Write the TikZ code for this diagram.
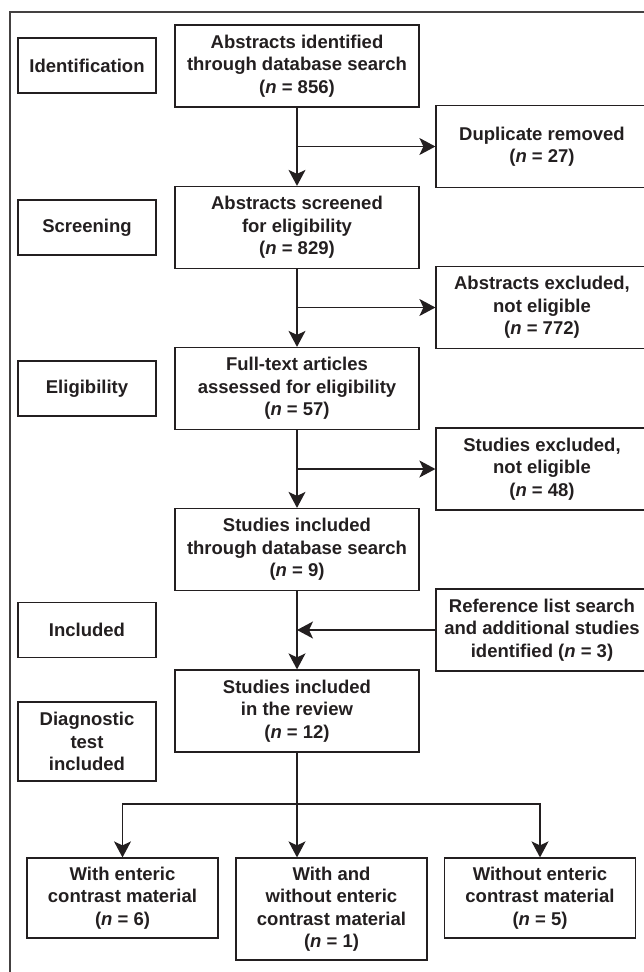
\documentclass[tikz,border=0pt]{standalone}
\usepackage{fontspec}
\setmainfont{Liberation Sans}
\usetikzlibrary{arrows.meta,calc}
\definecolor{ink}{HTML}{231F20}
\begin{document}
\begin{tikzpicture}[x=1pt,y=-1pt,
  txt/.style={font=\fontsize{18.5}{22.5}\selectfont\bfseries, text=ink, align=center},
  box/.style={txt, draw=ink, line width=1.2pt, inner sep=0pt, minimum width=244pt, minimum height=82pt},
  lab/.style={txt, draw=ink, line width=1.2pt, inner sep=0pt, minimum width=138pt, minimum height=55pt},
  side/.style={txt, draw=ink, line width=1.2pt, inner sep=0pt, minimum width=212pt, minimum height=82pt},
  bot/.style={txt, draw=ink, line width=1.2pt, inner sep=0pt, minimum width=191pt, minimum height=80pt},
  conn/.style={draw=ink, line width=1.4pt},
  arr/.style={conn, -{Stealth[length=16pt,width=17pt,inset=4pt]}}
]
\useasboundingbox (0,0) rectangle (644,972);
\clip (0,0) rectangle (644,972);
\draw[draw=ink!85, line width=1.2pt] (10,990) -- (10,12) -- (660,12);

% main column
\node[box] (b1) at (297,66) {Abstracts identified\\through database search\\(\textit{n} = 856)};
\node[box] (b2) at (297,227.5) {Abstracts screened\\for eligibility\\(\textit{n} = 829)};
\node[box] (b3) at (297,388.5) {Full-text articles\\assessed for eligibility\\(\textit{n} = 57)};
\node[box] (b4) at (297,549.5) {Studies included\\through database search\\(\textit{n} = 9)};
\node[box] (b5) at (297,711) {Studies included\\in the review\\(\textit{n} = 12)};

% stage labels
\node[lab] (l1) at (87,65.5) {Identification};
\node[lab] (l2) at (87,227.5) {Screening};
\node[lab] (l3) at (87,388.5) {Eligibility};
\node[lab] (l4) at (87,630) {Included};
\node[lab, minimum height=79pt] (l5) at (87,741.5) {Diagnostic\\test\\included};

% side boxes
\node[side] (s1) at (542,146.5) {Duplicate removed\\(\textit{n} = 27)};
\node[side] (s2) at (542,307.5) {Abstracts excluded,\\not eligible\\(\textit{n} = 772)};
\node[side] (s3) at (542,469) {Studies excluded,\\not eligible\\(\textit{n} = 48)};
\node[side] (s4) at (542,630) {Reference list search\\and additional studies\\identified (\textit{n} = 3)};

% bottom boxes
\node[bot] (bA) at (122.5,898) {With enteric\\contrast material\\(\textit{n} = 6)};
\node[bot, minimum height=102pt] (bB) at (331.5,909) {With and\\without enteric\\contrast material\\(\textit{n} = 1)};
\node[bot] (bC) at (540,898) {Without enteric\\contrast material\\(\textit{n} = 5)};

% connectors
\draw[arr] (b1) -- (b2);
\draw[arr] (b2) -- (b3);
\draw[arr] (b3) -- (b4);
\draw[arr] (b4) -- (b5);
\draw[arr] (b1.south |- s1.west) -- (s1.west);
\draw[arr] (b2.south |- s2.west) -- (s2.west);
\draw[arr] (b3.south |- s3.west) -- (s3.west);
\draw[arr] (s4.west) -- (s4.west -| b4.south);

\coordinate (br) at (297,804);
\draw[conn] (b5.south) -- (br);
\draw[arr] (br) -| (bA.north);
\draw[arr] (br) -| (bC.north);
\draw[arr] (br) -- (br |- bB.north);
\end{tikzpicture}
\end{document}
